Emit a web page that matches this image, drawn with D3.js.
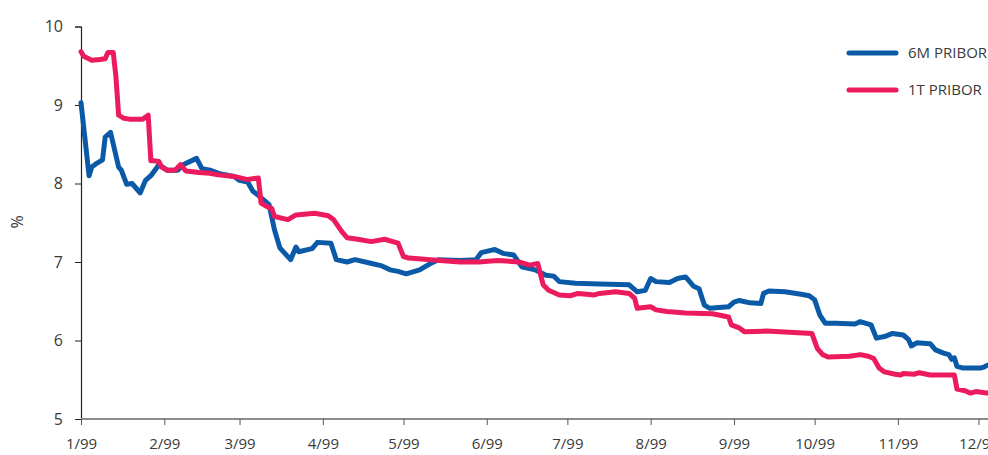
<!DOCTYPE html>
<html><head><meta charset="utf-8">
<script src="https://cdn.jsdelivr.net/npm/d3@7"></script>
<style>
html,body{margin:0;padding:0;background:#fff;overflow:hidden}
svg{display:block}
text{font-family:"Open Sans",sans-serif;fill:#3a3a3a}
</style></head>
<body><svg id="c" width="988" height="455"></svg>
<script>
const seriesNames = ["6M PRIBOR", "1T PRIBOR"];
const seriesColors = ["#0a5aa8", "#ec1b5d"];
const xTickLabels = ["1/99","2/99","3/99","4/99","5/99","6/99","7/99","8/99","9/99","10/99","11/99","12/99"];
const yTicks = [5,6,7,8,9,10];

const dates6M = ["01-01","01-04","01-05","01-07","01-09","01-10","01-12","01-15","01-16","01-18","01-20","01-23","01-25","01-27","01-30",
"02-02","02-06","02-08","02-13","02-15","02-18","02-22","02-27","03-01","03-04","03-06","03-08","03-12","03-14","03-16","03-20","03-22","03-23","03-28","03-30",
"04-04","04-06","04-10","04-13","04-18","04-23","04-26","04-29","05-02","05-07","05-11","05-14","05-22","05-28","05-30",
"06-04","06-07","06-11","06-14","06-19","06-23","06-26","06-28","07-04","07-13","07-24","07-27","07-30",
"08-01","08-03","08-08","08-11","08-14","08-17","08-19","08-21","08-23","08-30","09-01","09-03","09-07","09-11","09-12","09-14","09-20","09-26","09-29",
"10-01","10-03","10-05","10-09","10-16","10-18","10-22","10-24","10-27","10-30","11-03","11-05","11-06","11-08","11-13","11-15","11-18","11-20","11-21","11-22","11-23","11-25","12-02","12-03","12-04","12-05"];
const values6M = [9.03,8.10,8.21,8.26,8.30,8.59,8.65,8.21,8.17,7.99,8.00,7.88,8.04,8.10,8.24,
8.17,8.17,8.24,8.32,8.19,8.17,8.12,8.09,8.04,8.02,7.90,7.85,7.73,7.41,7.18,7.03,7.19,7.13,7.17,7.25,
7.24,7.03,7.00,7.03,6.99,6.95,6.90,6.88,6.85,6.90,6.98,7.03,7.02,7.03,7.12,
7.16,7.11,7.09,6.94,6.90,6.83,6.82,6.75,6.73,6.72,6.71,6.62,6.64,
6.79,6.75,6.74,6.79,6.81,6.69,6.66,6.45,6.41,6.43,6.49,6.51,6.48,6.47,6.60,6.63,6.62,6.59,6.57,
6.52,6.32,6.22,6.22,6.21,6.24,6.20,6.03,6.05,6.09,6.07,6.01,5.93,5.97,5.96,5.88,5.84,5.82,5.76,5.78,5.67,5.65,5.65,5.66,5.68,5.69];

const dates1T = ["01-01","01-02","01-05","01-08","01-10","01-11","01-13","01-14","01-15","01-17","01-19","01-24","01-26","01-27","01-28","01-30","01-31",
"02-02","02-05","02-07","02-09","02-14","02-18","02-21","02-27","03-04","03-08","03-09","03-11","03-13","03-14","03-19","03-22","03-29",
"04-03","04-05","04-08","04-10","04-14","04-19","04-24","04-27","04-29","05-01","05-03","05-11","05-22","05-29",
"06-05","06-13","06-17","06-20","06-22","06-24","06-28","07-02","07-05","07-11","07-13","07-19","07-24","07-26","07-27",
"08-01","08-03","08-07","08-14","08-24","08-30","08-31","09-03","09-05","09-13","09-25","09-30",
"10-02","10-04","10-06","10-14","10-18","10-21","10-23","10-25","10-27","10-31","11-02","11-03","11-07","11-09","11-13","11-22","11-23","11-26","11-28","11-30","12-04","12-05"];
const values1T = [9.68,9.62,9.57,9.58,9.59,9.67,9.67,9.36,8.87,8.83,8.82,8.82,8.87,8.29,8.29,8.28,8.21,
8.17,8.17,8.24,8.16,8.14,8.13,8.11,8.09,8.05,8.07,7.75,7.71,7.68,7.58,7.54,7.60,7.62,
7.59,7.54,7.39,7.31,7.29,7.26,7.29,7.26,7.24,7.07,7.05,7.03,7.00,7.00,
7.02,7.00,6.96,6.98,6.71,6.64,6.58,6.57,6.60,6.58,6.60,6.62,6.60,6.54,6.41,
6.43,6.39,6.37,6.35,6.34,6.30,6.20,6.16,6.11,6.12,6.10,6.09,
5.90,5.82,5.79,5.80,5.82,5.80,5.77,5.65,5.60,5.57,5.56,5.58,5.57,5.59,5.56,5.56,5.38,5.36,5.33,5.35,5.33,5.33];

const parse = d3.timeParse("%Y-%m-%d");
const toData = (ds, vs) => ds.map((d,i)=>({date: parse("1999-"+d), value: vs[i]}));
const series = [toData(dates6M, values6M), toData(dates1T, values1T)];

const svg = d3.select("#c");
const x = d3.scaleTime().domain([parse("1999-01-01"), parse("1999-12-01")]).range([81, 978.5]);
const y = d3.scaleLinear().domain([5,10]).range([419, 26.5]);

// y axis
const yAxis = svg.append("g").attr("transform","translate(81,0)")
  .call(d3.axisLeft(y).tickValues(yTicks).tickFormat(d3.format("d")).tickSize(6).tickPadding(12));
yAxis.select(".domain").attr("stroke","#222").attr("stroke-width",1.2);
yAxis.selectAll(".tick line").attr("stroke","#222");
yAxis.selectAll(".tick text").style("font-size","16px").attr("fill","#3a3a3a").style("font-family","'Open Sans',sans-serif");

// x axis
const monthTicks = d3.range(12).map(m => new Date(1999, m, 1));
const xAxis = svg.append("g").attr("transform","translate(0,419)")
  .call(d3.axisBottom(x).tickValues(monthTicks).tickFormat((d,i)=>xTickLabels[i]).tickSize(6).tickSizeOuter(0).tickPadding(13));
xAxis.select(".domain").attr("stroke","#8c8c8c").attr("stroke-width",2.2).attr("d","M81,0H988");
xAxis.selectAll(".tick line").attr("stroke","#555");
xAxis.selectAll(".tick text").style("font-size","15px").attr("fill","#3a3a3a").style("font-family","'Open Sans',sans-serif");

svg.append("text").attr("transform","translate(23,222) rotate(-90)").attr("text-anchor","middle")
  .style("font-size","16px").text("%");

const line = d3.line().x(d=>x(d.date)).y(d=>y(d.value));
series.forEach((s,i)=>{
  svg.append("path").datum(s).attr("d",line).attr("fill","none")
    .attr("stroke",seriesColors[i]).attr("stroke-width",5).attr("stroke-linejoin","round").attr("stroke-linecap","round");
});

// legend
const lg = svg.append("g");
seriesNames.forEach((n,i)=>{
  const yy = 53 + i*37;
  lg.append("line").attr("x1",849).attr("x2",896).attr("y1",yy).attr("y2",yy)
    .attr("stroke",seriesColors[i]).attr("stroke-width",5).attr("stroke-linecap","round");
  lg.append("text").attr("x",908).attr("y",yy).attr("dy","0.35em").style("font-size","15px").text(n);
});
</script></body></html>
